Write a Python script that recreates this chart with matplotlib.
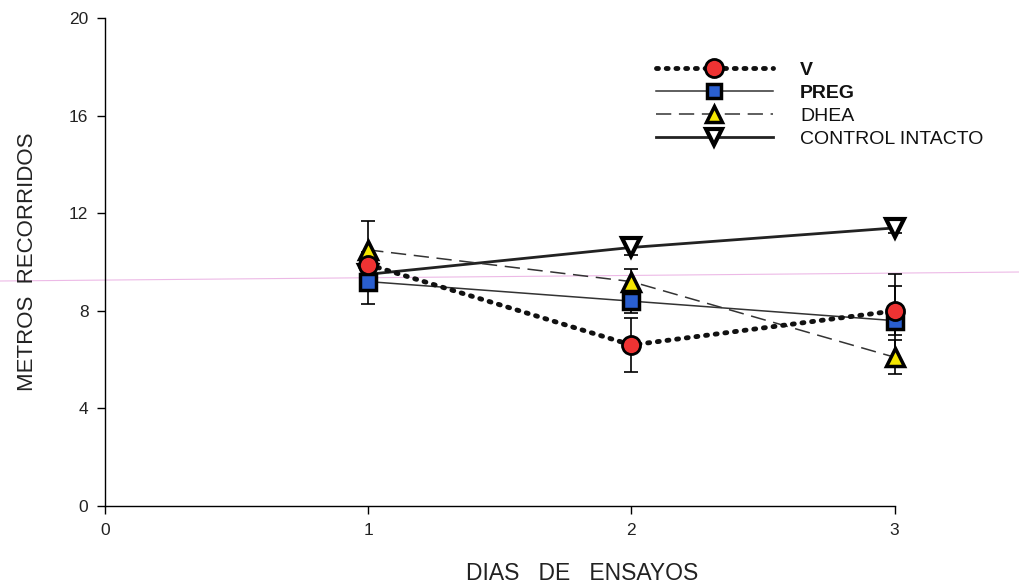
import matplotlib
matplotlib.use("Agg")
import matplotlib.pyplot as plt
from matplotlib.lines import Line2D

plt.rcParams['font.family'] = ['Liberation Sans', 'DejaVu Sans']

days = [1, 2, 3]
v_mean = [9.9, 6.6, 8.0]
v_err = [0.5, 1.1, 1.0]
preg_mean = [9.2, 8.4, 7.6]
preg_err = [0.9, 0.5, 1.9]
dhea_mean = [10.5, 9.2, 6.1]
dhea_err = [1.2, 0.5, 0.7]
ctrl_mean = [9.5, 10.6, 11.4]
ctrl_err = [0.4, 0.3, 0.2]

labels = ["V", "PREG", "DHEA", "CONTROL INTACTO"]
xticks = [0, 1, 2, 3]
yticks = [0, 4, 8, 12, 16, 20]

fig = plt.figure(figsize=(10.2, 5.86), dpi=100)
ax = fig.add_axes([0.103, 0.1365, 0.774, 0.8325])
ax.patch.set_visible(False)

eb_kw = dict(ecolor='black', elinewidth=1.2, capsize=5, capthick=1.2)

ax.errorbar(days, ctrl_mean, yerr=ctrl_err, fmt='none', zorder=2, **eb_kw)
ax.errorbar(days, dhea_mean, yerr=dhea_err, fmt='none', zorder=2, **eb_kw)
ax.errorbar(days, preg_mean, yerr=preg_err, fmt='none', zorder=2, **eb_kw)
ax.errorbar(days, v_mean, yerr=v_err, fmt='none', zorder=2, **eb_kw)

ax.plot(days, ctrl_mean, '-', color='#222222', lw=2.0, marker='v', ms=13,
        mfc='white', mec='black', mew=3, zorder=3, label=labels[3])
ax.plot(days, dhea_mean, color='#333333', lw=1.1, dashes=(10, 5), marker='^', ms=13,
        mfc='#f4e600', mec='black', mew=2.5, zorder=4, label=labels[2])
ax.plot(days, preg_mean, '-', color='#333333', lw=1.1, marker='s', ms=11,
        mfc='#2a5fd0', mec='black', mew=2.5, zorder=5, label=labels[1])
ax.plot(days, v_mean, color='#111111', lw=3.5, linestyle=(0, (0.4, 1.6)),
        dash_capstyle='round', marker='o', ms=13,
        mfc='#ee3333', mec='black', mew=2, zorder=6, label=labels[0])

ax.set_xlim(0, 3)
ax.set_ylim(0, 20)
ax.set_xticks(xticks)
ax.set_yticks(yticks)
ax.tick_params(axis='both', direction='out', length=6, width=1, labelsize=12.5, pad=6,
               labelcolor='#222222')
for s in ['top', 'right']:
    ax.spines[s].set_visible(False)
for s in ['left', 'bottom']:
    ax.spines[s].set_linewidth(1.0)
for art in ax.lines:
    art.set_clip_on(False)
for c in ax.collections:
    c.set_clip_on(False)

ax.set_xlabel("DIAS   DE   ENSAYOS", fontsize=16.5, color='#222222')
ax.xaxis.set_label_coords(0.604, -0.114)
ax.set_ylabel("METROS  RECORRIDOS", fontsize=16, color='#222222')
ax.yaxis.set_label_coords(-0.085, 0.5)

handles = [
    Line2D([], [], color='#111111', lw=3.5, linestyle=(0, (0.4, 1.6)), dash_capstyle='round',
           marker='o', ms=13, mfc='#ee3333', mec='black', mew=2),
    Line2D([], [], color='#333333', lw=1.1, marker='s', ms=10, mfc='#2a5fd0', mec='black', mew=2.5),
    Line2D([], [], color='#333333', lw=1.1, dashes=(10, 5), marker='^', ms=12,
           mfc='#f4e600', mec='black', mew=2.5),
    Line2D([], [], color='#222222', lw=2.0, marker='v', ms=12, mfc='white', mec='black', mew=3),
]
leg = ax.legend(handles, labels, loc='upper left', bbox_to_anchor=(0.688, 0.928),
                frameon=False, fontsize=14, handlelength=6.0, handletextpad=1.4,
                labelspacing=0.28, borderaxespad=0.0)
for t, w in zip(leg.get_texts(), ['bold', 'bold', 'normal', 'normal']):
    t.set_fontweight(w)
    t.set_color('#111111')

fig.add_artist(Line2D([0, 1], [1 - 281 / 586, 1 - 272 / 586], transform=fig.transFigure,
                      color='#e8a8e0', lw=0.8, alpha=0.8, zorder=0))

fig.savefig("out.png", dpi=100)
